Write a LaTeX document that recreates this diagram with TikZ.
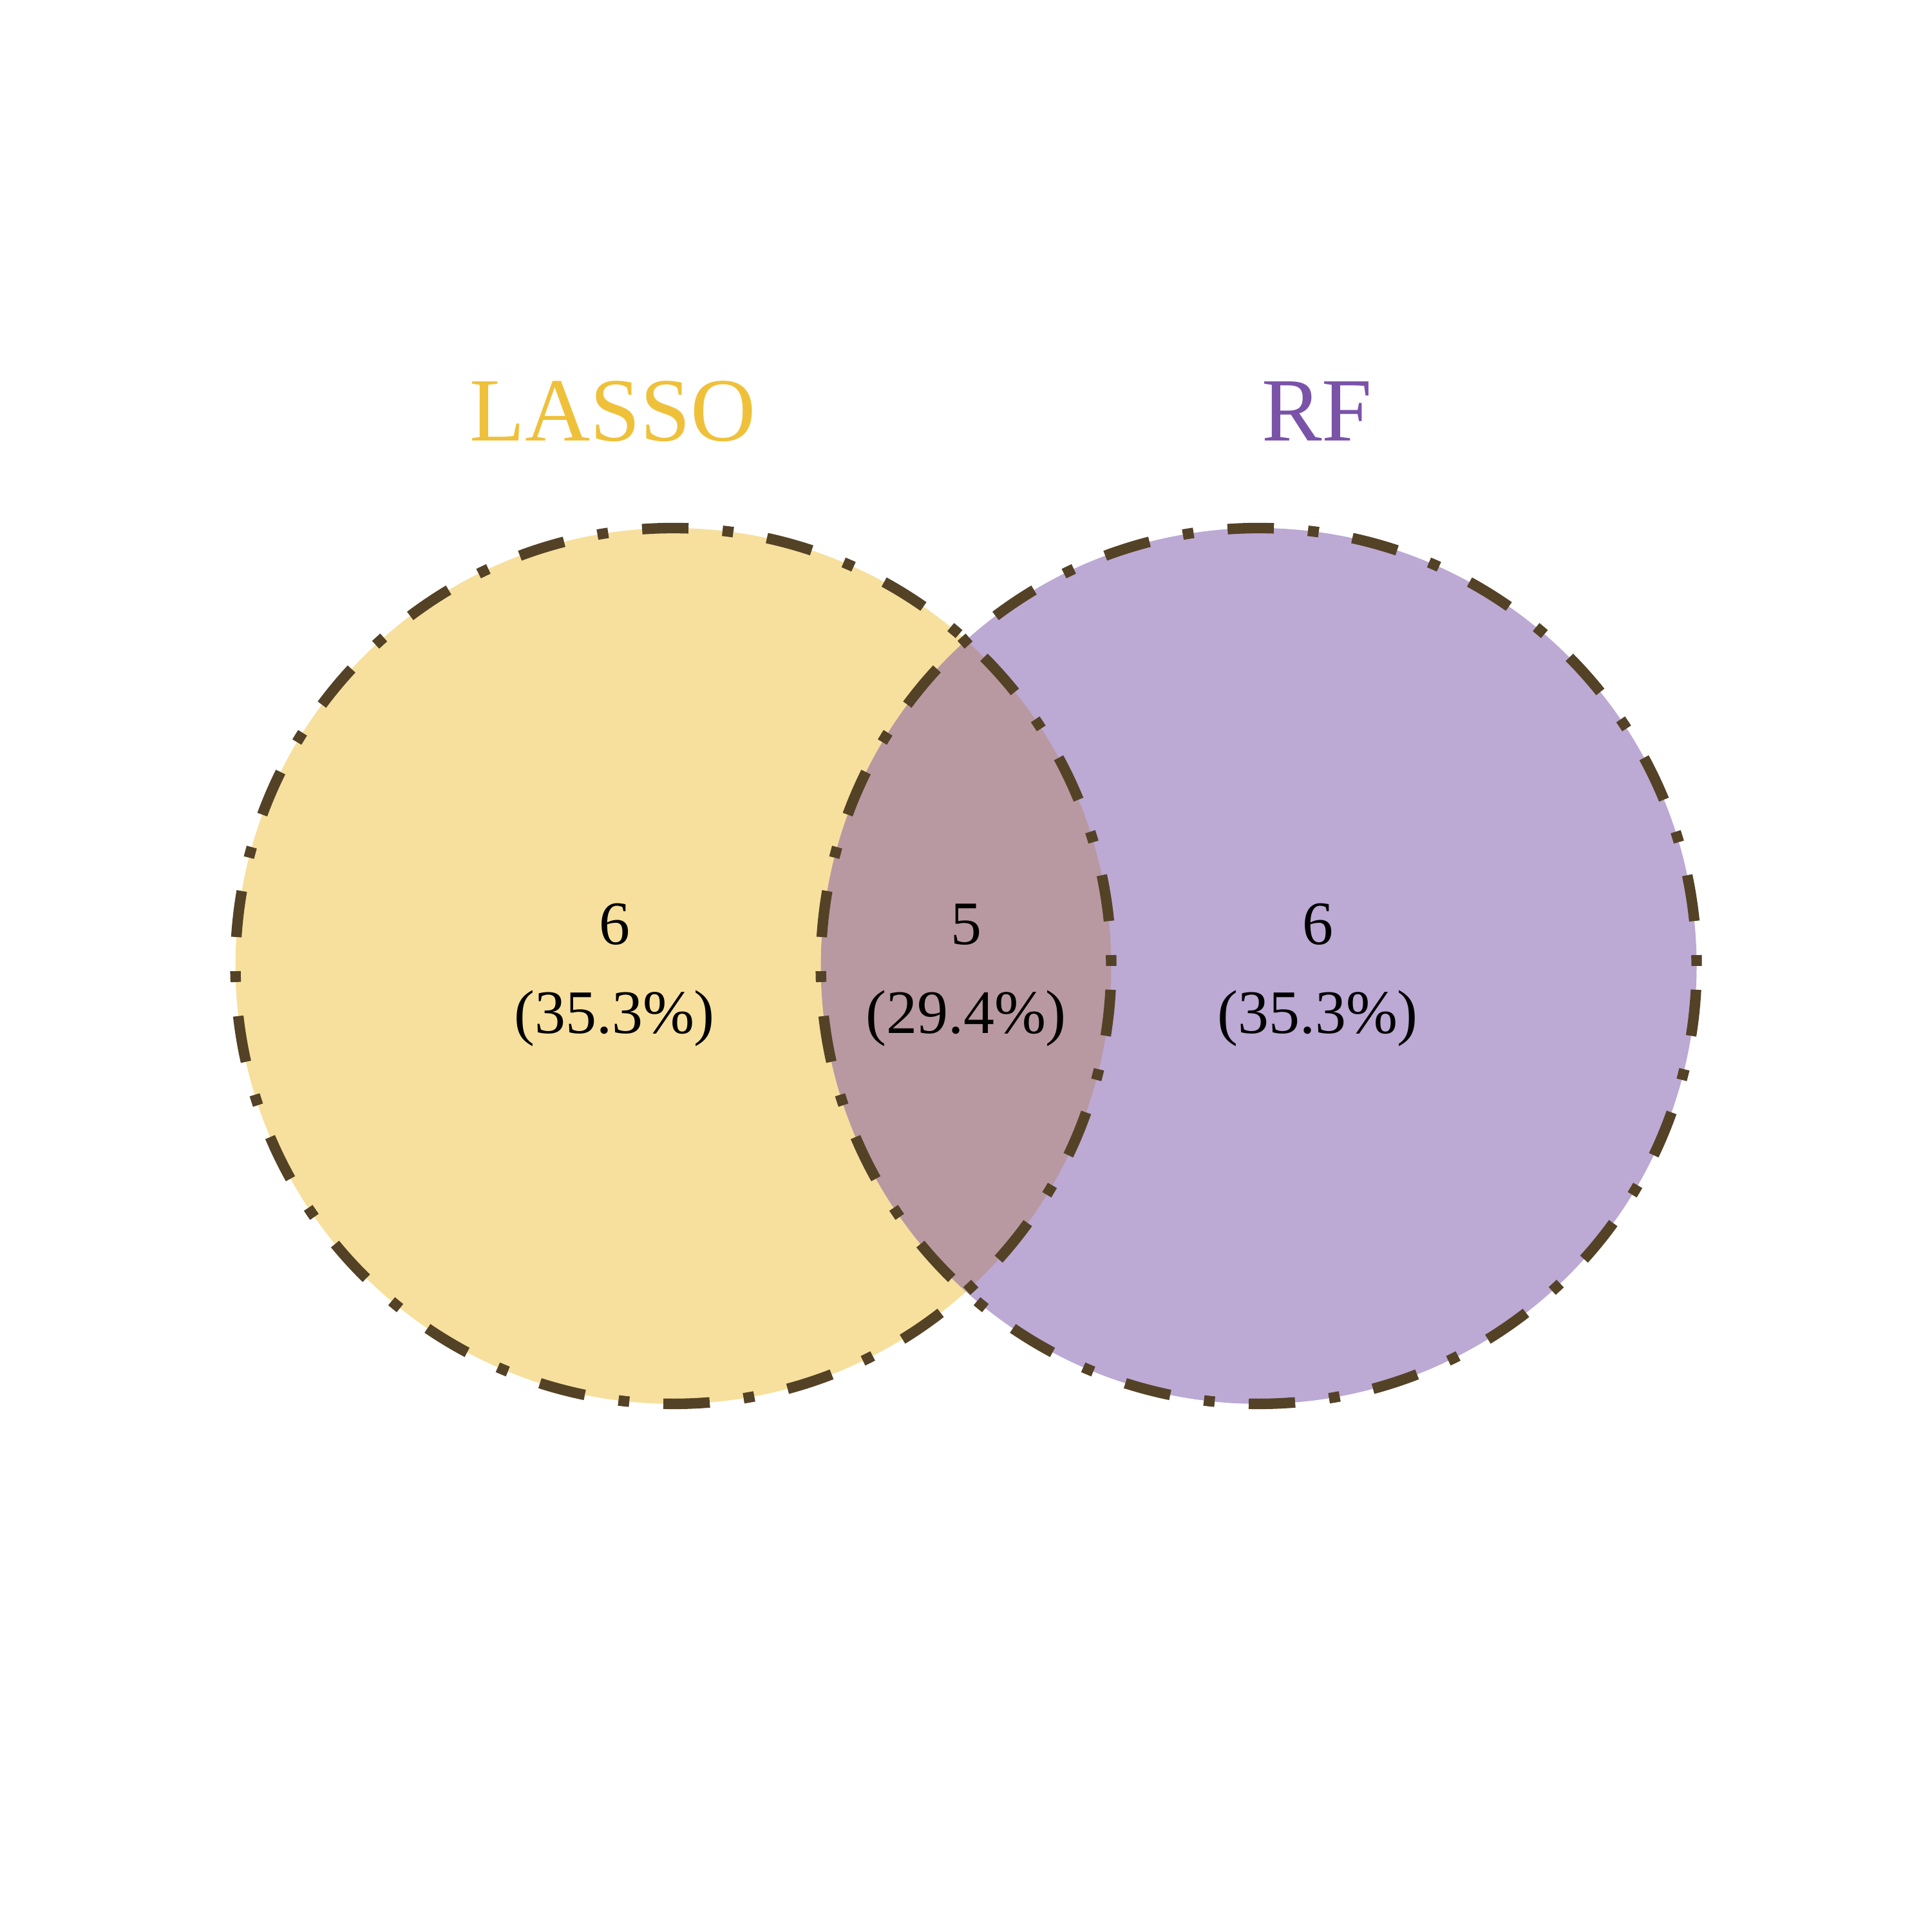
\documentclass[tikz,border=0pt]{standalone}
\usepackage{fontspec}
\setmainfont{Liberation Serif}
\usepackage{xcolor}
\definecolor{lassogold}{HTML}{EFC13B}
\definecolor{rfpurple}{HTML}{7A53A9}
\definecolor{rimbrown}{HTML}{544226}

\begin{document}
\begin{tikzpicture}[
    setfill/.style={circle, minimum size=4.533cm, inner sep=0pt, outer sep=0pt, fill opacity=0.5},
    rim/.style={draw=rimbrown, line width=1.55pt, dash pattern=on 1.6pt off 5.03pt on 6.83pt off 5.03pt},
    title/.style={font=\fontsize{13.3}{16}\selectfont, anchor=base},
    count/.style={font=\fontsize{9.1}{13.1}\selectfont, align=center, anchor=base},
]
\useasboundingbox (0,0) rectangle (10,10);

% Sets
\node[setfill, fill=lassogold] (lasso) at (3.485,5.0) {};
\node[setfill, fill=rfpurple] (rf) at (6.515,5.0) {};

% Dash-dot rims on top
\foreach \n in {lasso, rf} {
    \draw[rim] (\n.center) circle (2.2665cm);
}

% Set names
\node[title, text=lassogold] (lassoname) at (3.173,7.717) {LASSO};
\node[title, text=rfpurple] (rfname) at (6.817,7.717) {RF};

% Counts
\node[count] (onlylasso) at (3.18,4.65) {6\\(35.3\%)};
\node[count] (both) at (5.0,4.65) {5\\(29.4\%)};
\node[count] (onlyrf) at (6.82,4.65) {6\\(35.3\%)};

\end{tikzpicture}
\end{document}
